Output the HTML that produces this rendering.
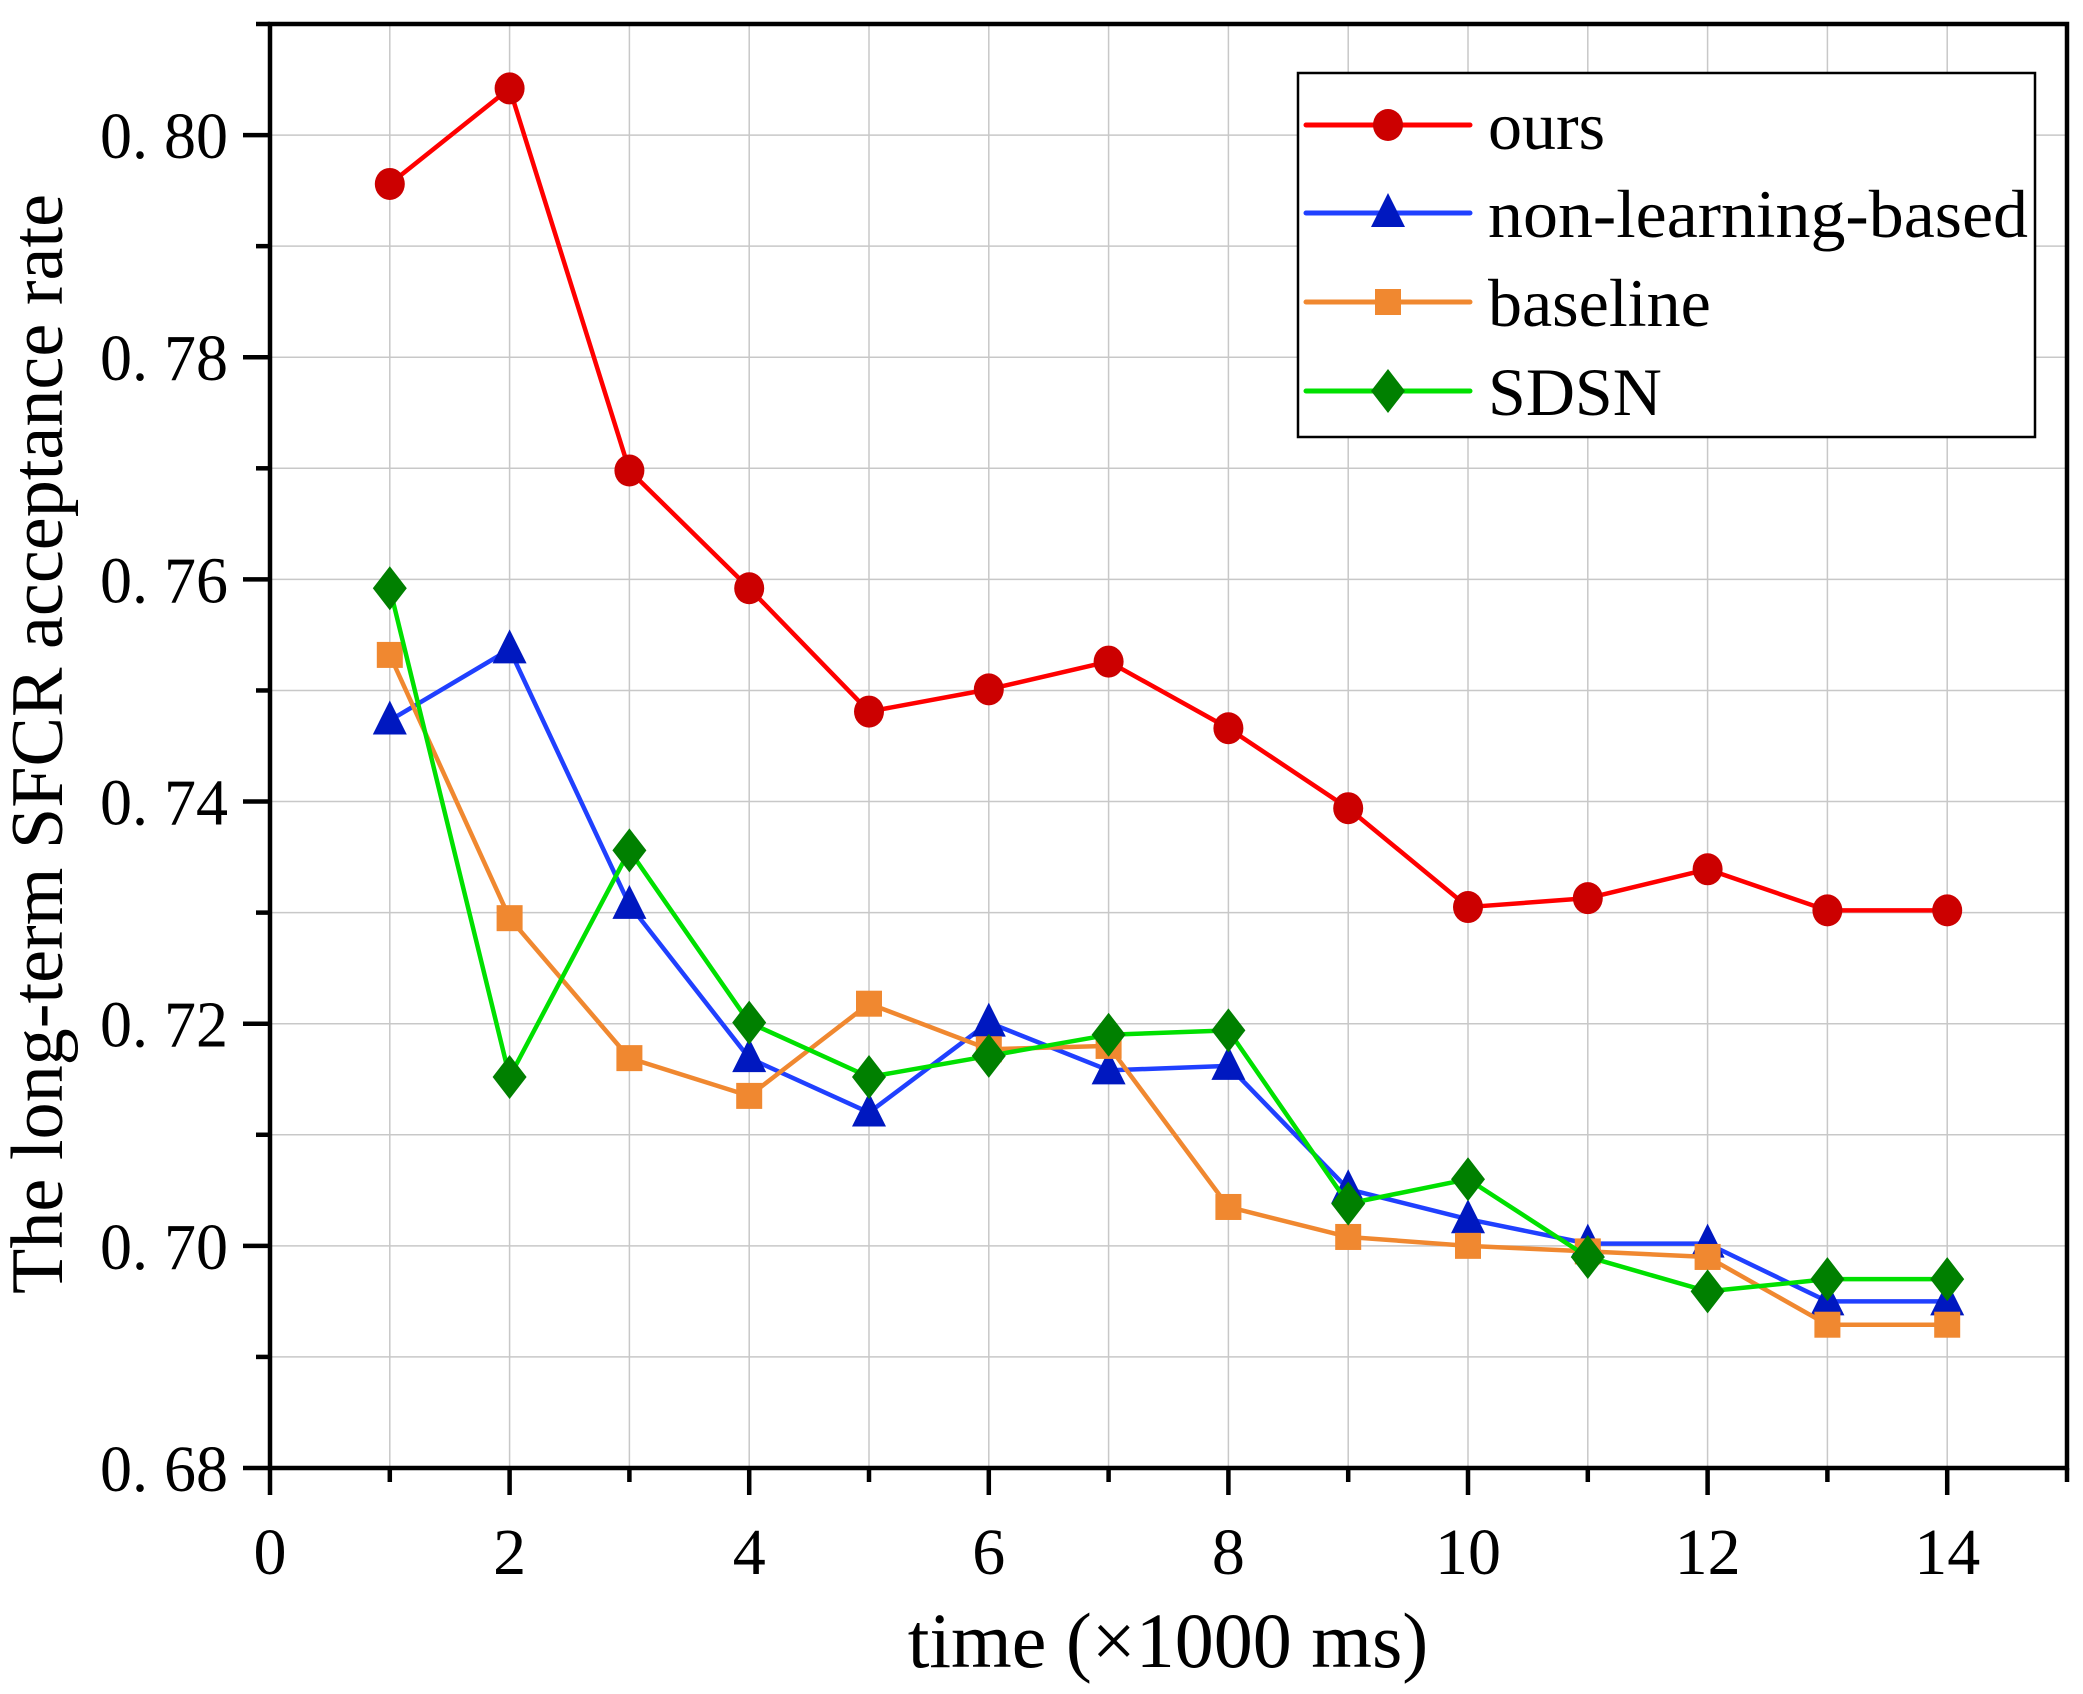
<!DOCTYPE html>
<html><head><meta charset="utf-8"><style>
html,body{margin:0;padding:0;background:#fff;}
svg{display:block;font-family:"Liberation Serif",serif;}
</style></head><body>
<svg id="chart" width="2083" height="1694" viewBox="0 0 2083 1694" xmlns="http://www.w3.org/2000/svg">
<g id="grid"></g>
<g id="series"></g>
<g id="axes"></g>
<text x="1168" y="1667" font-size="78" text-anchor="middle">time (×1000 ms)</text>
<text transform="translate(62,744) rotate(-90)" font-size="74" text-anchor="middle" textLength="1100" lengthAdjust="spacingAndGlyphs">The long-term SFCR acceptance rate</text>
<g id="legend"></g>
</svg>
<script>
const xs = [1,2,3,4,5,6,7,8,9,10,11,12,13,14];
const ours = [0.7956,0.8042,0.7698,0.7592,0.7481,0.7501,0.7526,0.7466,0.7394,0.7305,0.7313,0.7339,0.7302,0.7302];
const nonLearning = [0.7473,0.7537,0.7307,0.7169,0.7120,0.7201,0.7158,0.7162,0.7051,0.7024,0.7002,0.7002,0.6950,0.6950];
const baseline = [0.7532,0.7295,0.7169,0.7135,0.7218,0.7177,0.7180,0.7035,0.7008,0.7000,0.6995,0.6990,0.6929,0.6929];
const sdsn = [0.7592,0.7152,0.7356,0.7201,0.7152,0.7171,0.7190,0.7194,0.7038,0.7060,0.6990,0.6959,0.6970,0.6970];
const xTickLabels = ["0","2","4","6","8","10","12","14"];
const yTickLabels = ["0. 68","0. 70","0. 72","0. 74","0. 76","0. 78","0. 80"];
const seriesNames = ["ours","non-learning-based","baseline","SDSN"];

const L=270,R=2067,T=24,B=1468;
const xMin=0,xMax=15,yMin=0.68,yMax=0.81;
const X=v=>L+(v-xMin)/(xMax-xMin)*(R-L);
const Y=v=>B-(v-yMin)/(yMax-yMin)*(B-T);
const NS="http://www.w3.org/2000/svg";
function mk(tag,attrs,parent){const e=document.createElementNS(NS,tag);for(const k in attrs)e.setAttribute(k,attrs[k]);parent.appendChild(e);return e;}
const grid=document.getElementById('grid'),axes=document.getElementById('axes'),ser=document.getElementById('series'),leg=document.getElementById('legend');

for(let i=1;i<15;i++){const l=mk('line',{x1:X(i),x2:X(i),y1:T,y2:B,stroke:'#c8c8c8','stroke-width':1.5},grid);

}
for(let i=1;i<13;i++){const v=yMin+i*0.01;const l=mk('line',{x1:L,x2:R,y1:Y(v),y2:Y(v),stroke:'#c8c8c8','stroke-width':1.5},grid);

}

const frame=mk('rect',{x:L,y:T,width:R-L,height:B-T,fill:'none',stroke:'#000','stroke-width':4.5},axes);


for(let i=0;i<=15;i++){const major=i%2===0;const t=mk('line',{x1:X(i),x2:X(i),y1:B,y2:B+(major?27:14),stroke:'#000','stroke-width':4.5},axes);

}
xTickLabels.forEach((s,i)=>{const t=mk('text',{x:X(i*2),y:1574,'font-size':66,'text-anchor':'middle'},axes);t.textContent=s;

});
for(let i=0;i<=13;i++){const major=i%2===0;const v=yMin+i*0.01;const t=mk('line',{x1:L-(major?27:14),x2:L,y1:Y(v),y2:Y(v),stroke:'#000','stroke-width':4.5},axes);

}
yTickLabels.forEach((s,i)=>{const t=mk('text',{x:100,y:Y(yMin+i*0.02)+23,'font-size':66,'textLength':128,'lengthAdjust':'spacingAndGlyphs'},axes);t.textContent=s;

});

const styles=[{line:'#ff0000',fill:'#cc0000',m:'circle'},{line:'#2040ff',fill:'#0018c0',m:'tri'},{line:'#f08830',fill:'#f08830',m:'sq'},{line:'#00e000',fill:'#008000',m:'dia'}];
function marker(type,cx,cy,fill,parent){
 if(type==='circle')return mk('ellipse',{cx:cx,cy:cy,rx:15,ry:16,fill:fill},parent);
 if(type==='tri')return mk('polygon',{points:`${cx},${cy-20} ${cx+17},${cy+14} ${cx-17},${cy+14}`,fill:fill},parent);
 if(type==='sq')return mk('rect',{x:cx-13,y:cy-13,width:26,height:26,fill:fill},parent);
 return mk('polygon',{points:`${cx},${cy-22} ${cx+17},${cy} ${cx},${cy+22} ${cx-17},${cy}`,fill:fill},parent);
}
const data=[ours,nonLearning,baseline,sdsn];
const keys=['ours','non-learning-based','baseline','sdsn'];
data.forEach((arr,si)=>{const st=styles[si];
 const g=mk('g',{},ser);
 
 
 const p=mk('polyline',{points:arr.map((v,i)=>X(xs[i])+','+Y(v)).join(' '),fill:'none',stroke:st.line,'stroke-width':4.5,'stroke-linejoin':'round'},g);
 
 
 arr.forEach((v,i)=>{const m=marker(st.m,X(xs[i]),Y(v),st.fill,g);
  
  });
});

const box=mk('rect',{x:1298,y:73,width:737,height:364,fill:'#fff',stroke:'#000','stroke-width':2.5},leg);


const ly=[125,213,302,391];
seriesNames.forEach((n,i)=>{const st=styles[i];
 const g=mk('g',{},leg);
 
 
 mk('line',{x1:1306,x2:1470,y1:ly[i],y2:ly[i],stroke:st.line,'stroke-width':5,'stroke-linecap':'round'},g);
 marker(st.m,1388,ly[i],st.fill,g);
 const t=mk('text',{x:1488,y:ly[i]+24,'font-size':68},g);t.textContent=n;
 if(n==='non-learning-based'){t.setAttribute('textLength','540');t.setAttribute('lengthAdjust','spacingAndGlyphs');}
});
</script>
</body></html>
